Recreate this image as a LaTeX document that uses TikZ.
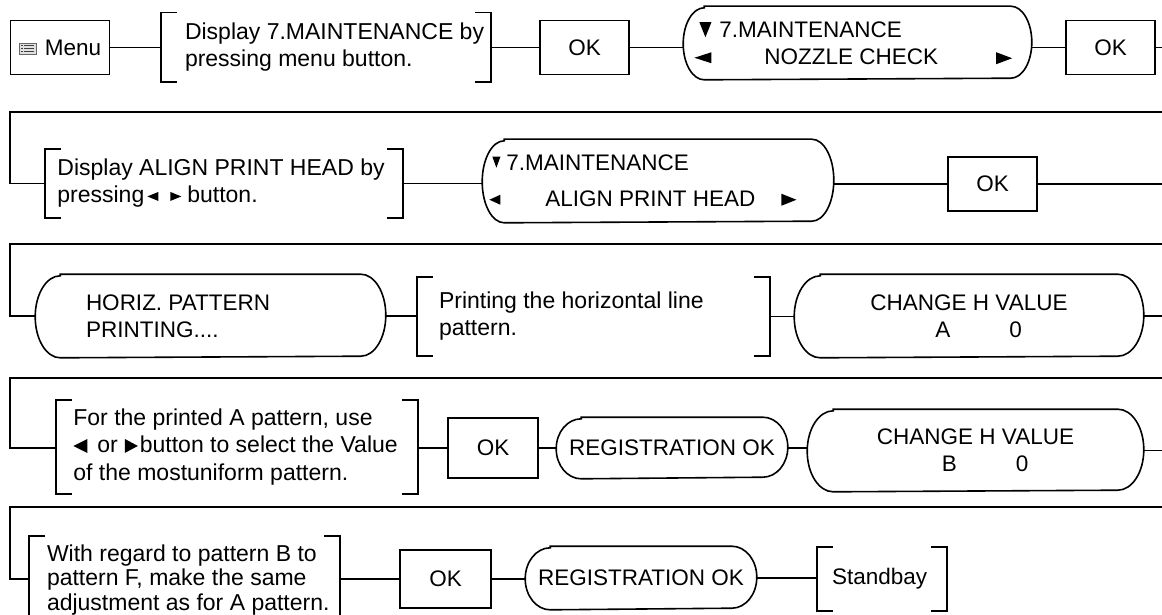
\documentclass[tikz,border=0pt]{standalone}
\usepackage{fontspec}
\setmainfont{Liberation Sans}
% small filled triangles used inside the texts: width, height, raise
\newcommand\trd[3]{\tikz[baseline=0pt]\fill (0pt,#3+#2) -- (#1,#3+#2) -- (0.5*#1,#3) -- cycle;}
\newcommand\trl[3]{\tikz[baseline=0pt]\fill (#1,#3) -- (#1,#3+#2) -- (0pt,#3+0.5*#2) -- cycle;}
\newcommand\trr[3]{\tikz[baseline=0pt]\fill (0pt,#3) -- (0pt,#3+#2) -- (#1,#3+0.5*#2) -- cycle;}
\newcommand\menuicon{\tikz[baseline=-1pt]{\draw[black!60, fill=black!12, line width=0.8pt] (0pt,0pt) rectangle (17pt,11pt);
  \foreach \yy in {2.6,5.5,8.4}{\draw[black!75, line width=1.3pt] (5pt,\yy pt) -- (14.5pt,\yy pt);}
  \foreach \yy in {2.6,5.5,8.4}{\draw[black!75, line width=1.3pt] (2pt,\yy pt) -- (3.5pt,\yy pt);}}}
\newcommand\brk[1]{%
  \draw ([xshift=16pt]#1.north west) -- (#1.north west) -- (#1.south west) -- ([xshift=16pt]#1.south west);
  \draw ([xshift=-16pt]#1.north east) -- (#1.north east) -- (#1.south east) -- ([xshift=-16pt]#1.south east);}
\newcommand\stad[3]{%
  \draw ([xshift=#2pt]#1.north west) -- ([xshift=-#2pt]#1.north east)
    arc[start angle=90, end angle=-90, x radius=#2, y radius=#3]
    -- ([xshift=#2pt]#1.south west)
    arc[start angle=270, end angle=90, x radius=#2, y radius=#3] -- cycle;}
\begin{document}
\begin{tikzpicture}[x=1pt, y=1pt, line width=1.6pt,
  tx/.style={font=\fontsize{22.5}{27}\selectfont, inner sep=0pt, align=left},
  okbox/.style={draw, inner sep=0pt, minimum width=89pt, minimum height=54pt, font=\fontsize{22.5}{27}\selectfont},
  frm/.style={inner sep=0pt, draw=none}]
\useasboundingbox (0,0) rectangle (1162,-615);
\fill[white] (0,0) rectangle (1162,-615);

% ---------- row 1
\node[okbox, minimum width=99pt] (menu) at (60,-47.5) {\menuicon\hspace{8pt}Menu};
\node[frm, minimum width=328pt, minimum height=68pt] (b1) at (326,-47.5) {};
\node[tx, anchor=west, font=\fontsize{23}{27}\selectfont] (t1) at ([xshift=23pt]b1.west) {Display 7.MAINTENANCE by\\pressing menu button.};
\node[okbox] (ok1) at (584.5,-47.5) {OK};
\node[frm, minimum width=347pt, minimum height=72pt] (d1) at (857.5,-43) {};
\node[tx, anchor=west] (t2) at ([xshift=11pt]d1.west) {\hspace*{5pt}\trd{12pt}{15pt}{0pt}\hspace{8pt}7.MAINTENANCE\\\makebox[70pt][l]{\trl{17pt}{11pt}{1pt}}NOZZLE CHECK\hspace{58pt}\trr{16pt}{12pt}{0pt}};
\node[okbox] (ok2) at (1110.5,-47.5) {OK};
\coordinate (e1) at (1162,-47.5);
\draw (menu.east) -- (b1.west);
\draw (b1.east) -- (ok1.west);
\draw (ok1.east) -- (ok1.east -| d1.west);
\draw (ok2.west -| d1.east) -- (ok2.west);
\draw (ok2.east) -- (e1);
\brk{b1}
\stad{d1}{21}{36}

% ---------- row 2
\coordinate (e2) at (1162,-112);
\coordinate (s2) at (10,-112);
\node[frm, minimum width=356pt, minimum height=67pt] (b2) at (224,-183.5) {};
\node[tx, anchor=west, font=\fontsize{23}{27}\selectfont] (t3) at ([xshift=12pt]b2.west) {Display ALIGN PRINT HEAD by\\pressing\hspace{3pt}\trl{11pt}{9pt}{2pt}\hspace{12pt}\trr{11pt}{9pt}{2pt}\hspace{6pt}button.};
\node[frm, minimum width=350pt, minimum height=82pt] (d2) at (658,-181) {};
\node[tx, anchor=west, font=\fontsize{22.5}{36}\selectfont] (t4) at ([xshift=7pt]d2.west) {\hspace*{3pt}\trd{8pt}{11pt}{3pt}\hspace{6pt}7.MAINTENANCE\\\makebox[56pt][l]{\trl{11pt}{10pt}{2pt}}ALIGN PRINT HEAD\hspace{26pt}\trr{15pt}{12pt}{1pt}};
\node[okbox] (ok3) at (992.5,-184) {OK};
\coordinate (e3) at (1162,-184);
\draw (e2) -- (s2) |- (b2.west);
\draw (b2.east) -- (b2.east -| d2.west);
\draw (ok3.west -| d2.east) -- (ok3.west);
\draw (ok3.east) -- (e3);
\brk{b2}
\stad{d2}{22}{41}

% ---------- row 3
\coordinate (e4) at (1162,-244);
\coordinate (s4) at (10,-244);
\node[frm, minimum width=349pt, minimum height=82pt] (h1) at (210.5,-316) {};
\node[tx, anchor=west] (t5) at ([xshift=50pt]h1.west) {HORIZ. PATTERN\\PRINTING....};
\node[frm, minimum width=351pt, minimum height=77pt] (b3) at (593.5,-316.5) {};
\node[tx, anchor=west, font=\fontsize{23}{27}\selectfont] (t6) at ([xshift=21pt]b3.west) {Printing the horizontal line\\pattern.};
\node[frm, minimum width=348pt, minimum height=82pt] (c1) at (969,-316) {};
\node[tx, align=center] (t7) at (c1.center) {CHANGE H VALUE\\\makebox[106pt][r]{A\hspace{59pt}0}};
\draw (e4) -- (s4) |- (h1.west);
\draw (h1.east) -- (h1.east -| b3.west);
\draw (b3.east) -- (b3.east -| c1.west);
\draw (c1.east) -- (c1.east -| e4);
\stad{h1}{25}{41}
\brk{b3}
\stad{c1}{26}{41}

% ---------- row 4
\coordinate (e5) at (1162,-378);
\coordinate (s5) at (10,-378);
\node[frm, minimum width=360pt, minimum height=92pt] (b4) at (237,-447) {};
\node[tx, anchor=west, font=\fontsize{23}{27.5}\selectfont] (t8) at ([xshift=17pt]b4.west) {For the printed A pattern, use\\\trl{14pt}{14pt}{0pt}\hspace{10pt}or\hspace{7pt}\trr{13pt}{14pt}{0pt}\hspace{2pt}button to select the Value\\of the mostuniform pattern.};
\node[okbox, minimum width=90pt, minimum height=60pt] (ok4) at (493,-448) {OK};
\node[frm, minimum width=230pt, minimum height=60pt] (r1) at (672,-448) {};
\node[tx] (t9) at (r1.center) {REGISTRATION OK};
\node[frm, minimum width=335pt, minimum height=81pt] (c2) at (975.5,-450.5) {};
\node[tx, align=center] (t10) at (c2.center) {CHANGE H VALUE\\\makebox[106pt][r]{B\hspace{59pt}0}};
\draw (e5) -- (s5) |- (b4.west |- ok4.west);
\draw (b4.east |- ok4.west) -- (ok4.west);
\draw (ok4.east) -- (r1.west);
\draw (r1.east) -- (r1.east -| c2.west);
\draw (c2.east) -- (c2.east -| e5);
\brk{b4}
\stad{r1}{25}{30}
\stad{c2}{26}{40.5}

% ---------- row 5
\coordinate (e6) at (1162,-507);
\coordinate (s6) at (10,-507);
\node[frm, minimum width=309pt, minimum height=88pt] (b5) at (184.5,-581) {};
\node[tx, anchor=west, font=\fontsize{23}{24.5}\selectfont] (t11) at ([xshift=17pt]b5.west |- 0,-580) {With regard to pattern B to\\pattern F, make the same\\adjustment as for A pattern.};
\node[okbox, minimum width=91pt, minimum height=58pt] (ok5) at (445.5,-579) {OK};
\node[frm, minimum width=230pt, minimum height=62pt] (r2) at (641,-578) {};
\node[tx] (t12) at (r2.center) {REGISTRATION OK};
\node[frm, minimum width=128pt, minimum height=62pt] (b6) at (882,-579) {};
\node[tx, anchor=west] (t13) at ([xshift=14pt]b6.west) {Standbay};
\draw (e6) -- (s6) |- (b5.west |- ok5.west);
\draw (b5.east |- ok5.west) -- (ok5.west);
\draw (ok5.east) -- (ok5.east -| r2.west);
\draw (r2.east) -- (r2.east -| b6.west);
\brk{b5}
\stad{r2}{25}{31}
\brk{b6}
\end{tikzpicture}
\end{document}
